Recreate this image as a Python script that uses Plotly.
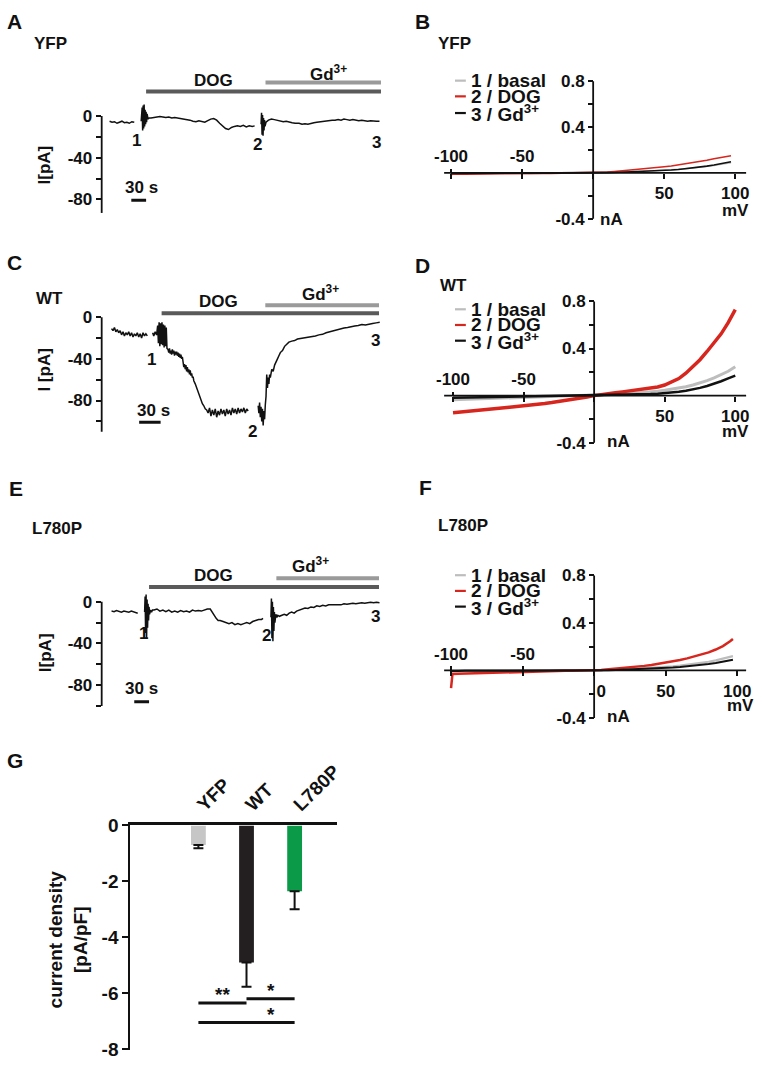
import plotly.graph_objects as go

W, H = 762, 1068
FONT = "Liberation Sans, Arial, sans-serif"
INK = "#111111"
DOG_COL = "#5a5a5a"
GD_COL = "#9a9a9a"
BASAL_COL = "#bdbdbd"
RED = "#d7261e"

# ---------------- Panel A : YFP current trace (time s, current pA) ----------------
a_time = [0, 5, 10, 15, 20, 25, 30, 35, 40, 45, 50, None,
          64, 66, 67, 68, 69, 70, 71, 72, 73, 74, 75, 76, 78, 80,
          84, 90, 96, 102, 108, 114, 120, 126, 132, 138, 144, 150, 157,
          163, 169, 175, 181, 187, 193, 199, 205, 211,
          217, 223, 229, 235, 241, 247,
          253, 259, 265, 271, 277, 283, 289, 294, None,
          307, 308, 309, 310, 311, 312, 313, 314, 315, 317,
          322, 328, 334, 340, 346, 352, 358, 364, 370, 376, 384,
          390, 396, 402, 408, 414, 420, 426, 432, 438, 444, 451,
          457, 463, 469, 475, 481, 487, 493, 499, 505, 511, 517, 523, 529, 535, 541, 547]
a_curr = [-5, -6, -5.5, -7, -6, -5, -6.5, -6, -7, -5.5, -6, None,
          -5, 8, -14, 10, -12, 11, -10, 6, -8, 4, -6, 2, -3, -2,
          -2, -1.5, -1, -0.5, -1, -1.5, -1, -2, -1.5, -2, -2.5, -3, -3,
          -4, -5, -5.5, -4.5, -5, -6, -4.5, -3, -2.5,
          -4, -7, -10, -12, -13, -11,
          -10, -9.5, -10, -9, -10.5, -9.5, -10, -9.5, None,
          -8, 3, -18, 1, -19, -2, -14, -4, -10, -6,
          -4, -3, -3.5, -4, -5, -5.5, -5, -6, -6.5, -7, -7,
          -8, -7.5, -8, -7, -6.5, -6, -5.5, -5, -4.5, -4.5, -4,
          -4, -3.5, -4, -3, -3.5, -4, -3.5, -4, -4.5, -4, -4.5, -5, -4.5, -5, -5, -5]
a_dog = [74, 550]
a_gd = [316, 550]
a_scale = [44, 74]

# ---------------- Panel C : WT current trace ----------------
c_time = [0, 2, 4, 6, 8, 10, 12, 14, 16, 18, 20, 22, 24, 26, 28, 30, 32, 34, 36, 38, 40, 42, 44, 46, 48, 50, None,
          57.5, 59, 61, 63,
          64.5, 65.5, 66.5, 67.5, 68.5, 69.5, 70.5, 71.5, 72.5, 73.5, 74.5, 75.5, 76.5, 77.5,
          79, 80, 81, 82, 83, 84, 85, 86, 87, 88, 89, 90, 91, 92, 93, 94, 95, 96, 97, 98, 99,
          100, 101, 102, 103, 104, 105, 106, 107, 108, 109, 110, 111, 112, 113, 114, 115,
          117, 119, 121, 123, 125, 127, 129, 131, 133,
          135, 137, 139, 141, 143, 145, 147, 149, 151, 153, 155, 157, 159, 161, 163, 165, 167, 169, 171,
          173, 175, 177, 179, 181, 183, 185, 187, 189, 191, None,
          205, 206, 207, 208, 209, 210, 211, 212, 213, 214, 215, 216,
          217, 218, 219, 220, 221, 222, 224, 226, 228, 230, 232, 234, 236, 239, 242, 245, 248, 252, 256, 260,
          265, 270, 275, 280, 285, 290, 295, 300, 305, 310, 315, 320, 325, 330, 335, 340, 345, 350, 355,
          360, 365, 370, 375]
c_curr = [-11, -13, -10, -14, -12, -15, -13, -17, -14, -18, -15, -17, -14, -18, -15, -19, -16, -18, -15, -19,
          -16, -20, -15, -18, -16, -18, None,
          -15, -18, -14, -17,
          -8, -25, -5, -28, -6, -26, -5, -27, -7, -29, -8, -28, -10, -30,
          -31, -34, -30, -35, -32, -36, -31, -35, -32, -37, -33, -36, -33, -37, -34, -38, -35, -39, -36, -40, -38,
          -44, -48, -45, -50, -46, -52, -48, -53, -50, -55, -51, -56, -54, -58, -57, -61,
          -64, -68, -72, -76, -79, -83, -85, -88, -89,
          -92, -87, -95, -89, -94, -88, -96, -90, -94, -88, -93, -89, -95, -88, -93, -89, -94, -87, -92,
          -88, -93, -87, -92, -88, -91, -87, -92, -88, -90, None,
          -85, -92, -82, -96, -86, -100, -88, -104, -90, -98, -84, -76,
          -55, -68, -58, -64, -55, -58, -50, -52, -46, -42, -40, -37, -34, -32, -28, -26, -24, -23, -22.5, -21,
          -20.5, -19.5, -19, -18.5, -18, -17, -16.5, -15, -14, -13.5, -12, -11.5, -10.5, -10, -9, -8.5, -8, -7,
          -7.5, -6.5, -6, -5.5, -5]
c_dog = [70, 374]
c_gd = [215, 374]
c_scale = [38.6, 68.6]

# ---------------- Panel E : L780P current trace ----------------
e_time = [0, 5, 10, 15, 20, 25, 30, 35, 40, 45, 50, 53, None,
          67, 68, 69, 70, 71, 72, 73, 74, 75, 76, 77, 79, 81, 83,
          86, 92, 98, 104, 110, 116, 122, 128, 134, 140, 146, 152, 158, 164, 170, 176, 182, 188, 194, 200,
          204, 208, 212, 216, 220,
          226, 232, 238, 244, 250, 256, 262, 268, 274, 280, 286, 292, 298, 304, 307, None,
          323, 324, 325, 326, 327, 328, 329, 330, 331, 333, 335, 337, 340,
          345, 350, 355, 360, 365, 370, 375, 380,
          386, 392, 398, 404, 410, 416, 422, 428, 434, 440, 447,
          453, 459, 465, 471, 477, 483, 489, 495, 501, 507, 513, 519, 525, 531, 537, 543]
e_curr = [-9, -9.5, -8.5, -9, -10, -9, -9.5, -10, -9, -10, -10.5, -11, None,
          -10, 5, -30, 7, -35, 2, -25, -2, -18, -5, -12, -8, -10, -8,
          -8, -7, -9, -8, -9.5, -8, -10, -9, -10, -8.5, -9.5, -9, -10, -8, -9, -8.5, -9, -8, -7, -7,
          -10, -14, -16, -18, -18,
          -19, -20, -21, -20, -22, -21, -22, -21, -20, -21, -19, -18, -17, -17, -16, None,
          -15, 3, -35, 0, -38, -5, -28, -10, -20, -12, -15, -13, -14,
          -13, -12, -13, -11, -10, -11, -9, -8,
          -7.5, -6, -6.5, -5, -5.5, -4, -4.5, -3.5, -4, -3, -3,
          -3, -2.5, -3, -2, -2.5, -2, -1.5, -2, -1.5, -1, -1.5, -1, -0.5, -1, -0.5, -1]
e_dog = [76, 542]
e_gd = [334, 542]
e_scale = [46, 76]

# ---------------- IV curves (mV, nA) ----------------
v_bf = [-100, -99, -95, -90, -85, -80, -75, -70, -65, -60, -55, -50, -45, -40, -35, -30, -25, -20, -15, -10, -5,
        0, 5, 10, 15, 20, 25, 30, 35, 40, 45, 50, 55, 60, 65, 70, 75, 80, 85, 90, 95, 97]
b_basal = [-0.03, -0.006, -0.006, -0.005, -0.006, -0.005, -0.005, -0.004, -0.005, -0.004, -0.004, -0.003, -0.004,
           -0.003, -0.003, -0.002, -0.002, -0.002, -0.001, -0.001, 0.000, 0.000,
           0.001, 0.002, 0.004, 0.006, 0.008, 0.010, 0.013, 0.016, 0.019, 0.022, 0.026, 0.031, 0.036, 0.042,
           0.048, 0.056, 0.065, 0.075, 0.085, 0.090]
b_dog = [-0.012, -0.011, -0.010, -0.011, -0.009, -0.010, -0.008, -0.009, -0.007, -0.008, -0.006, -0.007, -0.005,
         -0.005, -0.004, -0.004, -0.003, -0.002, -0.002, -0.001, 0.000, 0.000,
         0.004, 0.007, 0.012, 0.017, 0.022, 0.028, 0.033, 0.040, 0.047, 0.053, 0.060, 0.069, 0.080, 0.090,
         0.098, 0.110, 0.124, 0.136, 0.146, 0.150]
b_gd = [-0.004, -0.004, -0.003, -0.004, -0.003, -0.003, -0.004, -0.003, -0.002, -0.003, -0.002, -0.002, -0.003,
        -0.002, -0.001, -0.002, -0.001, -0.001, -0.001, 0.000, 0.000, 0.000,
        0.001, 0.002, 0.003, 0.005, 0.007, 0.009, 0.012, 0.015, 0.018, 0.021, 0.025, 0.030, 0.036, 0.043,
        0.050, 0.059, 0.069, 0.080, 0.092, 0.098]

v_d = [-100, -95, -90, -85, -80, -75, -70, -65, -60, -55, -50, -45, -40, -35, -30, -25, -20, -15, -10, -5, 0,
       5, 10, 15, 20, 25, 30, 35, 40, 45, 50, 55, 60, 65, 70, 75, 80, 85, 90, 95, 100]
d_basal = [-0.035, -0.033, -0.032, -0.030, -0.029, -0.027, -0.025, -0.023, -0.021, -0.019, -0.018, -0.016,
           -0.014, -0.012, -0.010, -0.008, -0.006, -0.004, -0.003, -0.001, 0.000,
           0.003, 0.006, 0.010, 0.014, 0.018, 0.022, 0.027, 0.032, 0.038, 0.045, 0.053, 0.063, 0.075, 0.090,
           0.107, 0.127, 0.150, 0.177, 0.207, 0.245]
d_dog = [-0.145, -0.140, -0.132, -0.128, -0.121, -0.116, -0.110, -0.104, -0.099, -0.092, -0.087, -0.080,
         -0.073, -0.066, -0.058, -0.050, -0.041, -0.031, -0.021, -0.011, 0.000,
         0.010, 0.018, 0.025, 0.032, 0.039, 0.046, 0.054, 0.063, 0.074, 0.090, 0.115, 0.145, 0.190, 0.245,
         0.305, 0.375, 0.445, 0.525, 0.620, 0.730]
d_gd = [-0.018, -0.017, -0.016, -0.016, -0.015, -0.014, -0.013, -0.012, -0.011, -0.010, -0.009, -0.008,
        -0.007, -0.006, -0.005, -0.004, -0.003, -0.002, -0.002, -0.001, 0.000,
        0.001, 0.002, 0.004, 0.005, 0.007, 0.009, 0.011, 0.013, 0.016, 0.020, 0.026, 0.033, 0.042, 0.053,
        0.066, 0.082, 0.100, 0.122, 0.146, 0.170]

f_basal = [-0.012, -0.008, -0.007, -0.007, -0.006, -0.006, -0.005, -0.005, -0.005, -0.004, -0.004, -0.004,
           -0.003, -0.003, -0.003, -0.002, -0.002, -0.002, -0.001, -0.001, 0.000, 0.000,
           0.002, 0.004, 0.006, 0.008, 0.011, 0.014, 0.017, 0.021, 0.025, 0.030, 0.035, 0.041, 0.048, 0.055,
           0.063, 0.073, 0.085, 0.098, 0.112, 0.120]
f_dog = [-0.150, -0.030, -0.028, -0.026, -0.025, -0.023, -0.021, -0.020, -0.018, -0.016, -0.014, -0.012,
         -0.011, -0.009, -0.008, -0.006, -0.005, -0.004, -0.003, -0.002, -0.001, 0.000,
         0.004, 0.009, 0.014, 0.019, 0.025, 0.031, 0.038, 0.046, 0.055, 0.065, 0.076, 0.088, 0.101, 0.116,
         0.132, 0.152, 0.176, 0.205, 0.245, 0.265]
f_gd = [-0.006, -0.005, -0.005, -0.004, -0.005, -0.004, -0.004, -0.003, -0.004, -0.003, -0.003, -0.003,
        -0.002, -0.002, -0.002, -0.002, -0.001, -0.001, -0.001, 0.000, 0.000, 0.000,
        0.001, 0.002, 0.004, 0.006, 0.008, 0.010, 0.012, 0.015, 0.018, 0.021, 0.025, 0.029, 0.034, 0.040,
        0.046, 0.054, 0.063, 0.073, 0.084, 0.090]

legend_labels = ["1 / basal", "2 / DOG", "3 / Gd<sup>3+</sup>"]

# ---------------- Panel G : current density ----------------
g_cats = ["YFP", "WT", "L780P"]
g_mean = [-0.70, -4.90, -2.35]
g_sem = [0.12, 0.87, 0.65]
g_colors = ["#c6c6c6", "#231f20", "#0b9a48"]
sig_from = [0, 1, 0]
sig_to = [1, 2, 2]
sig_y = [-6.35, -6.2, -7.05]
sig_txt = ["**", "*", "*"]

# ================= figure =================
fig = go.Figure()
shapes, annos = [], []
lay = {}


def fx(x):
    return x / W


def fy(y):
    return 1 - y / H


def dom_x(p0, p1):
    return [fx(p0), fx(p1)]


def dom_y(p0, p1):
    return [fy(p1), fy(p0)]


def text(x, y, s, size=17, xanchor="center", yanchor="middle", angle=0, color=INK):
    annos.append(dict(x=fx(x), y=fy(y), xref="paper", yref="paper", text=s, showarrow=False,
                      xanchor=xanchor, yanchor=yanchor, textangle=angle,
                      font=dict(family=FONT, size=size, color=color, weight="bold")))


def tick_font(size=17):
    return dict(family=FONT, size=size, color=INK, weight="bold")


def minor(vals, ln=5, side_ticks="outside"):
    return dict(tickvals=vals, ticks=side_ticks, ticklen=ln, tickwidth=1.6, tickcolor=INK, showgrid=False)


def trace_panel(n, t, cur, box, t0_px, s_per_px, zero_px, axis_min, tickvals, dog, gd, scale,
                bar_y, marks, dog_txt, gd_txt, scale_txt, ytitle, ytitle_pos):
    xa, ya = ("x%d" % n if n > 1 else "x"), ("y%d" % n if n > 1 else "y")
    px0, py0, px1, py1 = box
    ppa = 1.0625
    xr = [(px0 - t0_px) * s_per_px, (px1 - t0_px) * s_per_px]
    yr = [(zero_px - py1) / ppa, (zero_px - py0) / ppa]
    lay["xaxis%d" % n if n > 1 else "xaxis"] = dict(domain=dom_x(px0, px1), range=xr, visible=False,
                                                    anchor=ya)
    major = [v for v in tickvals if v % 40 == 0]
    lay["yaxis%d" % n if n > 1 else "yaxis"] = dict(
        domain=dom_y(py0, py1), range=yr, anchor=xa, showgrid=False, zeroline=False, showline=False,
        tickvals=major, ticktext=[str(v) for v in major],
        minor=minor([v for v in tickvals if v % 40 != 0]),
        ticks="outside", ticklen=5, tickwidth=1.6, tickcolor=INK, tickfont=tick_font())
    fig.add_trace(go.Scatter(x=t, y=cur, mode="lines", xaxis=xa, yaxis=ya,
                             line=dict(color=INK, width=1.5), connectgaps=False, hoverinfo="skip"))
    shapes.append(dict(type="line", xref=xa + " domain", yref=ya, x0=0, x1=0, y0=0, y1=axis_min,
                       line=dict(color=INK, width=1.8)))
    shapes.append(dict(type="line", xref=xa, yref="paper", x0=dog[0], x1=dog[1], y0=fy(bar_y[0]),
                       y1=fy(bar_y[0]), line=dict(color=DOG_COL, width=4)))
    shapes.append(dict(type="line", xref=xa, yref="paper", x0=gd[0], x1=gd[1], y0=fy(bar_y[1]),
                       y1=fy(bar_y[1]), line=dict(color=GD_COL, width=4)))
    shapes.append(dict(type="line", xref=xa, yref="paper", x0=scale[0], x1=scale[1], y0=fy(bar_y[2]),
                       y1=fy(bar_y[2]), line=dict(color=INK, width=3)))
    text(dog_txt[0], dog_txt[1], "DOG")
    text(gd_txt[0], gd_txt[1], "Gd<sup>3+</sup>")
    text(scale_txt[0], scale_txt[1], "30 s")
    for k, (mx, my) in enumerate(marks):
        text(mx, my, str(k + 1))
    text(ytitle_pos[0], ytitle_pos[1], ytitle, angle=-90)


trace_panel(1, a_time, a_curr, (100, 55, 386, 214), 108, 2.0, 108, -93, [0, -20, -40, -60, -80],
            a_dog, a_gd, a_scale, (83, 74, 194), [(135, 133), (258, 137), (378, 135)],
            (213, 72), (330, 64), (140, 181), "I[pA]", (42, 158))
trace_panel(4, c_time, c_curr, (100, 270, 386, 440), 110, 1.38, 313, -110, [0, -20, -40, -60, -80, -100],
            c_dog, c_gd, c_scale, (309, 301, 420), [(150, 356), (253, 430), (377, 337)],
            (218, 297), (322, 288), (152, 408), "I [pA]", (42, 367))
trace_panel(7, e_time, e_curr, (100, 555, 386, 715), 110, 2.0, 603, -100, [0, -20, -40, -60, -80, -100],
            e_dog, e_gd, e_scale, (588, 579, 705), [(142, 635), (267, 637), (377, 618)],
            (213, 576), (312, 566), (140, 691), "I[pA]", (43, 655))


def iv_panel(n, v_list, series, zero_x, mv_px, zero_y, na_px, legend_y, mv_pos, na_pos, show_zero, widths):
    ntop = n + 1
    xa, ya, xt = "x%d" % n, "y%d" % n, "x%d" % ntop
    px0, px1 = 440, 757
    py0, py1 = zero_y - 0.92 * na_px, zero_y + 0.5 * na_px
    xr = [(px0 - zero_x) / mv_px, (px1 - zero_x) / mv_px]
    yr = [(zero_y - py1) / na_px, (zero_y - py0) / na_px]
    bottom_major = ([0] if show_zero else []) + [50, 100]
    bottom_text = (["\u00a0\u00a0\u00a00"] if show_zero else []) + ["50", "100"]
    lay["xaxis%d" % n] = dict(domain=dom_x(px0, px1), range=xr, anchor="free", position=fy(zero_y),
                              showgrid=False, zeroline=False, showline=False,
                              tickvals=bottom_major, ticktext=bottom_text,
                              minor=minor([-100, -50] + ([] if show_zero else [0])),
                              ticks="outside", ticklen=5, tickwidth=1.6, tickcolor=INK, tickfont=tick_font())
    lay["xaxis%d" % ntop] = dict(domain=dom_x(px0, px1), range=xr, anchor="free", position=fy(zero_y),
                                 overlaying=xa, side="top", showgrid=False, zeroline=False, showline=False,
                                 tickvals=[-100, -50], ticktext=["-100", "-50"],
                                 ticks="outside", ticklen=4, tickwidth=1.6, tickcolor=INK,
                                 tickfont=tick_font())
    lay["yaxis%d" % n] = dict(domain=dom_y(py0, py1), range=yr, anchor="free", position=fx(zero_x),
                              showgrid=False, zeroline=False, showline=False,
                              tickvals=[-0.4, 0.4, 0.8], ticktext=["-0.4", "0.4", "0.8"],
                              minor=minor([-0.2, 0.2, 0.6]),
                              ticks="outside", ticklen=5, tickwidth=1.6, tickcolor=INK, tickfont=tick_font())
    cols = [BASAL_COL, RED, INK]
    for s, col, w in zip(series, cols, widths):
        fig.add_trace(go.Scatter(x=v_list, y=s, mode="lines", xaxis=xa, yaxis=ya,
                                 line=dict(color=col, width=w), hoverinfo="skip"))
    # empty trace so the top (label) axis is drawn
    fig.add_trace(go.Scatter(x=[None], y=[None], mode="lines", xaxis=xt, yaxis=ya, hoverinfo="skip"))
    shapes.append(dict(type="line", xref=xa, yref=ya, x0=(447 - zero_x) / mv_px, x1=(753 - zero_x) / mv_px,
                       y0=0, y1=0, line=dict(color=INK, width=1.8)))
    shapes.append(dict(type="line", xref=xa, yref=ya, x0=0, x1=0, y0=-0.4, y1=0.8,
                       line=dict(color=INK, width=1.8)))
    for k, (lab, col) in enumerate(zip(legend_labels, cols)):
        yy = legend_y[k]
        shapes.append(dict(type="line", xref="paper", yref="paper", x0=fx(458), x1=fx(469),
                           y0=fy(yy), y1=fy(yy), line=dict(color=col, width=2.2)))
        text(472, yy, lab, size=19, xanchor="left")
    text(mv_pos[0], mv_pos[1], "mV")
    text(na_pos[0], na_pos[1], "nA", xanchor="left")


iv_panel(2, v_bf, [b_basal, b_dog, b_gd], 598, 1.44, 166, 116.7, [72, 88, 105], (742, 204), (603, 213),
         False, [1.6, 1.6, 1.6])
iv_panel(5, v_d, [d_basal, d_dog, d_gd], 599, 1.43, 393, 120, [305, 321, 337], (742, 430), (610, 440),
         False, [3, 3.5, 2.5])
iv_panel(8, v_bf, [f_basal, f_dog, f_gd], 599, 1.45, 673, 121, [576, 592, 608], (747, 709), (610, 720),
         True, [2.2, 2.5, 2])

# ---------------- Panel G ----------------
g_x = list(range(len(g_cats)))
gx0, gx1, gy0, gy1 = 129, 338, 831, 1060
g_c0, g_sp, g_ppu = 198, 48.75, 28.5
lay["xaxis10"] = dict(domain=dom_x(gx0, gx1), range=[(gx0 - g_c0) / g_sp, (gx1 - g_c0) / g_sp],
                      anchor="y10", side="top", showgrid=False, zeroline=False, showline=True,
                      linecolor=INK, linewidth=2.5, tickvals=g_x, ticktext=g_cats, ticks="",
                      tickangle=-45, tickfont=tick_font(19))
lay["yaxis10"] = dict(domain=dom_y(gy0, gy1), range=[-(gy1 - gy0) / g_ppu, 0], anchor="x10", showgrid=False,
                      zeroline=False, showline=True, linecolor=INK, linewidth=2,
                      tickvals=[0, -2, -4, -6, -8], ticktext=["0", "-2", "-4", "-6", "-8"],
                      ticklabeloverflow="allow",
                      ticks="outside", ticklen=6, tickwidth=2, tickcolor=INK, tickfont=tick_font(19))
fig.add_trace(go.Bar(x=g_x, y=g_mean, xaxis="x10", yaxis="y10", width=15 / g_sp,
                     marker=dict(color=g_colors, line=dict(width=0)),
                     error_y=dict(type="data", symmetric=False, array=[0] * len(g_sem), arrayminus=g_sem,
                                  color=INK, thickness=2, width=5),
                     hoverinfo="skip"))
for a, b, y, s in zip(sig_from, sig_to, sig_y, sig_txt):
    shapes.append(dict(type="line", xref="x10", yref="y10", x0=a, x1=b, y0=y, y1=y,
                       line=dict(color=INK, width=3)))
    annos.append(dict(x=(a + b) / 2 + (0.0 if b - a == 1 else 0.5), y=y, xref="x10", yref="y10", text=s,
                      showarrow=False, yanchor="bottom", yshift=-4,
                      font=dict(family=FONT, size=19, color=INK, weight="bold")))
text(66, 947, "current density<br>[pA/pF]", size=19, angle=-90)

# ---------------- panel letters & titles ----------------
for lab, x, y in [("A", 12, 12), ("B", 425, 12), ("C", 12, 257), ("D", 425, 260), ("E", 13, 488),
                  ("F", 428, 487), ("G", 12, 765)]:
    text(x, y, lab, size=21)
for lab, x, y in [("YFP", 48, 34), ("YFP", 457, 34), ("WT", 47, 294), ("WT", 456, 281),
                  ("L780P", 55, 528), ("L780P", 466, 525)]:
    text(x, y, lab, size=17)

fig.update_layout(**lay)
fig.update_layout(width=W, height=H, margin=dict(l=0, r=0, t=0, b=0), showlegend=False,
                  paper_bgcolor="white", plot_bgcolor="white", shapes=shapes, annotations=annos,
                  font=dict(family=FONT, color=INK))
fig.write_html("out.html", config={"displayModeBar": False},
               post_script="document.body.style.margin='0';document.documentElement.style.overflow='hidden';")
